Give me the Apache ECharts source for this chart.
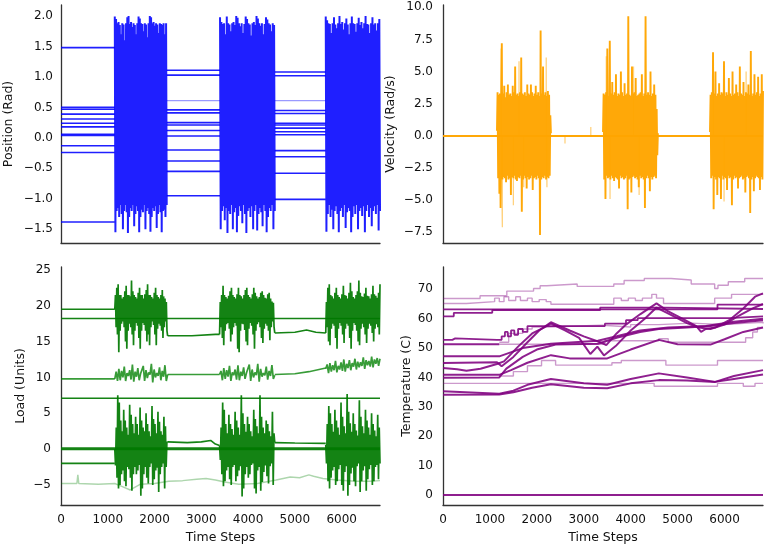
<!DOCTYPE html>
<html><head><meta charset="utf-8">
<script src="https://cdn.jsdelivr.net/npm/echarts@6/dist/echarts.min.js"></script>
<style>html,body{margin:0;padding:0;background:#fff}#c{width:765px;height:548px}</style>
</head><body><div id="c"></div>
<script>
// ---------- shared ----------
const timeMax = 6820;
const timeTicks = [0,1000,2000,3000,4000,5000,6000];
const posTicks = [-1.5,-1,-0.5,0,0.5,1,1.5,2];
const velTicks = [-7.5,-5,-2.5,0,2.5,5,7.5,10];
const loadTicks = [-5,0,5,10,15,20,25];
const tempTicks = [0,10,20,30,40,50,60,70];

// ---------- Position ----------
const posBursts = [[1150,2260],[3400,4570],[5660,6820]];
const posRest1 = [1.48,0.50,0.47,0.39,0.31,0.24,0.18,0.06,0.04,-0.13,-0.24,-1.38];
const posRest2 = [1.11,1.03,0.46,0.41,0.25,0.21,0.12,0.03,-0.20,-0.38,-0.55,-0.95];
const posRest3 = [1.08,1.02,0.45,0.40,0.24,0.21,0.16,0.10,0.05,-0.21,-0.31,-0.58,-1.01];
const posRestLight = [0.61];
const posBurst1 = [1.99,-1.55,1.95,-1.2,1.88,-1.15,1.9,-1.3,1.85,-1.1,1.7,-1.25,1.88,-1.5,1.86,-1.2,1.6,-1.1,1.88,-1.22,1.98,-1.56,2.0,-1.3,1.87,-1.15,1.9,-1.2,1.82,-1.1,1.88,-1.45,1.85,-1.25,1.7,-1.12,1.88,-1.2,1.99,-1.55,1.96,-1.3,1.88,-1.18,1.87,-1.22,1.75,-1.1,1.88,-1.5,1.86,-1.2,1.65,-1.15,1.88,-1.25,2.0,-1.54,1.98,-1.3,1.88,-1.15,1.9,-1.2,1.84,-1.12,1.88,-1.48,1.86,-1.25,1.72,-1.1,1.88,-1.22,1.87,-1.55,1.85,-1.2,1.88,-1.18,1.7,-1.3,1.88,-1.1];
const posBurst2 = [1.98,-1.5,1.9,-1.2,1.87,-1.12,1.88,-1.35,1.7,-1.15,1.99,-1.56,1.88,-1.2,1.86,-1.25,1.75,-1.1,1.88,-1.5,1.9,-1.22,1.85,-1.15,2.0,-1.55,1.97,-1.28,1.88,-1.12,1.83,-1.2,1.88,-1.4,1.72,-1.1,1.87,-1.25,1.99,-1.56,1.95,-1.2,1.88,-1.15,1.86,-1.3,1.68,-1.12,1.88,-1.5,1.9,-1.2,1.85,-1.1,2.0,-1.52,1.96,-1.25,1.88,-1.15,1.84,-1.22,1.88,-1.45,1.7,-1.1,1.87,-1.2,1.98,-1.55,1.94,-1.3,1.88,-1.15,1.86,-1.2,1.75,-1.1,1.88,-1.5,1.85,-1.2];
const posBurst3 = [1.99,-1.54,1.93,-1.25,1.88,-1.1,1.87,-1.3,1.72,-1.18,1.88,-1.5,1.98,-1.2,1.86,-1.12,1.8,-1.25,1.88,-1.55,2.0,-1.2,1.87,-1.15,1.9,-1.3,1.78,-1.1,1.88,-1.48,1.96,-1.22,1.86,-1.15,1.7,-1.2,1.88,-1.55,1.99,-1.3,1.88,-1.12,1.87,-1.25,1.74,-1.1,1.88,-1.5,1.97,-1.2,1.85,-1.15,1.9,-1.28,1.8,-1.12,1.88,-1.55,2.0,-1.2,1.87,-1.1,1.86,-1.3,1.72,-1.15,1.88,-1.45,1.98,-1.2,1.86,-1.12,1.88,-1.25,1.76,-1.1,1.88,-1.52,1.95,-1.2];

// ---------- Velocity ----------
const velBursts = [[1150,2300],[3410,4580],[5690,6820]];
const velBurst1 = [0.4,3.4,-3.3,3.2,-4.5,3.3,-5.6,3.1,7.2,-3.4,3.3,-3.2,3.9,-3.3,3.0,-3.6,3.4,-3.1,4.0,-3.4,3.2,-3.3,3.3,-4.6,3.1,-3.2,3.9,-3.3,3.4,-3.1,5.4,-3.4,3.2,-3.5,3.3,-3.2,3.1,-3.3,3.4,-3.1,6.1,-5.9,3.3,-3.4,3.2,-3.1,3.4,-3.3,3.1,-4.1,4.0,-3.2,3.3,-3.4,3.2,-3.3,4.0,-3.1,3.4,-4.2,3.1,-3.3,3.3,-3.2,3.9,-3.4,3.2,-3.1,3.4,-3.3,3.1,-7.7,8.2,-3.4,3.3,-3.2,5.4,-3.3,3.2,-3.1,3.4,-3.4,3.1,-3.2,3.5,-3.3,3.2,-3.1,1.6,0.2];
const velBurst2 = [0.3,3.3,-3.4,3.2,-4.9,3.4,-3.1,6.8,-3.3,3.1,-3.2,7.4,-3.4,3.3,-3.1,4.2,-3.3,3.2,-3.5,3.4,-3.2,4.8,-3.3,3.1,-3.4,3.3,-4.1,3.2,-3.1,5.0,-3.3,3.4,-3.2,3.1,-3.4,4.1,-3.3,3.2,-3.1,3.3,-5.7,9.3,-3.4,3.2,-3.3,3.1,-4.4,5.4,-3.2,3.3,-3.1,3.4,-3.3,4.5,-3.2,3.1,-3.4,3.2,-4.0,3.3,-3.1,3.4,-3.3,4.8,-3.2,3.1,-3.4,3.3,-5.6,9.3,-3.3,3.2,-3.1,3.4,-3.3,3.2,-4.3,5.0,-3.2,3.1,-3.4,3.3,-3.2,4.0,-3.1,3.2,-3.3,2.1,-1.5,0.2];
const velBurst3 = [0.3,3.2,-3.3,3.4,-3.1,6.5,-5.7,3.3,-3.2,5.0,-3.4,3.1,-4.6,3.3,-3.2,4.1,-3.3,3.2,-4.9,3.4,-3.1,3.3,-3.4,5.8,-3.2,3.1,-3.3,3.4,-4.2,3.2,-3.1,4.5,-3.3,3.3,-3.2,3.1,-5.4,5.0,-3.4,3.2,-3.1,3.3,-3.3,4.0,-3.2,3.4,-4.1,3.1,-3.3,5.4,-3.2,3.3,-3.1,3.2,-3.4,4.2,-3.3,3.1,-4.4,3.4,-3.2,3.3,-3.1,4.0,-3.3,3.2,-6.0,6.6,-3.4,3.1,-3.2,3.3,-4.3,4.8,-3.3,3.2,-3.1,3.4,-3.2,4.6,-3.3,3.1,-4.2,3.3,-3.2,4.8,-3.4,3.5];
const velLightSpikes = [[1240,6.8],[1265,-7.1],[1500,-5.4],[1620,5.8],[1720,-4.0],[2200,6.1],[2215,-4.0],[2600,-0.6],[3150,0.7],[3480,6.2],[3560,-4.9],[4060,5.4],[4180,-4.6],[5760,5.9],[5990,-5.1],[6460,5.0]];

// ---------- Load ----------
const loadBursts = [[1150,2280],[3390,4570],[5660,6820]];
const loadTopRest1 = [[0,19.5],[1150,19.5]];
const loadTopRest2 = [[2280,15.8],[2800,15.8],[3300,16.0],[3390,16.0]];
const loadTopRest3 = [[4570,16.2],[5000,16.3],[5250,16.6],[5450,16.3],[5660,16.2]];
const loadTopBurst1 = [19.5,21.5,17,22.5,16,23,13.5,21.5,16.5,21.5,17.5,21,17.8,21.2,17,22,15,22.8,14,21.5,16.5,21.5,17.5,21.3,17,23.5,16,22,14.5,21.5,16.5,21.2,17.6,21,17.2,21.8,15.5,22.5,14,21.5,16.5,21.5,17.6,21,17.3,21.6,16.5,22.2,15,23,16,21.5,14.5,21.5,17,21.2,17.8,21,17.3,21.8,16,22.5,14.5,21.5,16.8,21.2,17.5,21,17.2,21.5,16.5,22.2,15.5,21.3,17,21,17.8,20.5,16.5,15.8];
const loadTopBurst2 = [16,20.5,17,21.5,15.5,22.8,14.5,21.5,16.5,21.2,17.4,21,17.6,21.4,16.8,22,15,22.5,16,21.5,17,21.2,17.6,21,17.2,21.6,14,22.5,13.5,21.5,16.5,21.3,17.5,21,17.4,21.5,16.6,22.2,15,22.5,14.5,21.5,16.8,21.2,17.6,21,17.2,21.6,16,22.5,14,21.8,16.5,21.3,17.4,21,17.7,21.2,17,21.8,15.5,22,14.8,21.5,16.8,21.1,17.5,21,17.2,21.6,16.5,21.8,15.2,21,17,20.6,17.8,20.4,17,16.2];
const loadTopBurst3 = [16.2,20.5,17,22.5,15,23,14.5,21.5,16.8,21.3,17.5,21,17.2,21.8,15.5,22.5,14,21.5,16.8,21.2,17.6,21,17.2,21.6,16,22.8,14.8,21.5,16.8,21.4,17.5,21,17.2,21.8,15.5,23.2,14,22,16.5,21.2,17.6,21,17.3,21.5,16.5,22,15,23.5,14.5,21.8,16.8,21.3,17.5,21.2,17,21.7,16,22.5,14.8,21.4,16.8,21.3,17.5,21,17.2,21.6,16.2,22.8,15,21.6,16.8,21.4,17.4,21.1,17,21.8,16,23];
const loadConst = [18.2, 7.1];
const loadMidRest1 = [[0,9.8],[1150,9.8]];
const loadMidRest2 = [[2280,10.4],[3390,10.4]];
const loadMidRest3 = [[4570,10.4],[5000,10.5],[5300,10.8],[5660,11.3]];
const loadMidBurst1 = [9.8,10.8,9.5,11.2,9.6,10.9,10,11.5,9.5,10.6,10.2,11,9.7,11.8,9.4,10.8,10.1,11.3,9.6,10.5,10.3,11.6,9.5,11,9.9,10.7,10.4,11.9,9.3,11.1,10,10.6,10.2,11.4,9.6,10.9,10.1,11.7,9.5,10.4];
const loadMidBurst2 = [10.4,10.9,9.6,11.3,9.8,11,10.1,11.6,9.5,10.7,10.3,11.1,9.7,11.7,9.6,10.8,10.2,11.4,9.8,10.6,10.4,11.8,9.5,11.1,10,10.7,10.3,11.9,9.4,11.2,10.1,10.6,10.3,11.5,9.7,10.9,10.2,11.7,9.8,10.3];
const loadMidBurst3 = [11.2,11.8,10.6,12,10.8,11.7,11,12.3,10.7,11.6,11.1,12.1,10.9,12.5,10.8,11.9,11.3,12.4,11,12,11.5,12.6,11.1,12.2,11.4,12.1,11.6,12.8,11.2,12.4,11.7,12.3,11.5,12.9,11.4,12.5,11.9,12.7,11.6,12.6];
const loadZero = [[0,0.05],[6820,0.05]];
const loadLowRest1 = [[0,-2.0],[1150,-2.0]];
const loadLowRest2 = [[2280,1.0],[2700,0.9],[3000,1.0],[3200,1.2],[3300,0.7],[3390,0.5]];
const loadLowRest3 = [[4570,0.9],[5000,0.85],[5660,0.8]];
const loadLowBurst1 = [0,-2.3,3,-4,7.5,-5.5,6.5,-5,4,-3.5,2.5,-3,5.5,-4.5,4,-5.2,3,-2.5,2,-2.8,6.2,-4,4.8,-5.8,3.5,-3.5,2.2,-2.5,4.5,-3.5,3.5,-3,2,-2.2,5.8,-6.5,4,-5.5,3,-3.5,2.5,-2.5,5,-4,3.5,-4.8,2.5,-2.5,1.8,-2,6,-5,4.2,-4.2,3.5,-3,2.2,-2.6,5.2,-6,3.8,-3.5,2.5,-2.5,2,-2,4.5,-5.5,3.2,-2.5,1,0.9];
const loadLowBurst2 = [0.5,-1.5,3,-3.5,6.5,-5.2,5.5,-4.5,3.5,-3,2.2,-2.5,4.8,-4.2,3.5,-5,2.8,-2.5,2,-2.2,5.2,-4.5,4,-3.8,3,-3,2,-2.4,7.5,-6.6,5,-5.5,3.5,-3.5,2.4,-2.5,4.5,-4,3.5,-3.5,2.5,-2.2,1.8,-2,5.5,-5.5,4.2,-6.2,3.2,-3,2.2,-2.5,7.5,-5.8,4.5,-4.6,3,-3.2,2.2,-2.3,4,-3.8,3.5,-4.8,2.5,-2.4,1.8,-2,5.2,-5,2.2,0.9];
const loadLowBurst3 = [0.6,-2,3.5,-4.5,6,-5.5,5,-4,3.5,-3,2.4,-2.5,5.5,-5,4,-4.5,3,-2.8,2,-2.2,6.5,-5,4.5,-5.8,3.2,-3.2,2.2,-2.4,7.7,-6.5,5.2,-5,3.6,-3.4,2.4,-2.6,5,-4.5,3.5,-5.2,2.6,-2.4,1.9,-2,6.8,-6,4.5,-4.5,3.2,-3,2.2,-2.4,5.5,-5.8,4,-4.2,3,-2.8,2,-2.2,5,-5,3.5,-4.5,2.6,-2.5,1.8,-2.2,4.8,-4.2,3,-2];
const loadLight = [[0,-4.8],[340,-4.8],[360,-3.6],[380,-4.8],[800,-4.9],[1150,-4.8],[1300,-5.2],[1480,-5.7],[1700,-4.9],[2000,-4.8],[2300,-4.5],[2600,-4.4],[2900,-4.2],[3100,-4.1],[3300,-4.3],[3500,-4.6],[3800,-4.9],[4200,-4.8],[4600,-4.3],[4900,-3.9],[5100,-4.0],[5300,-3.6],[5400,-3.8],[5600,-4.1],[5900,-4.3],[6300,-4.5],[6600,-4.5],[6820,-4.4]];

// ---------- Temperature ----------
const tempLight1 = [[0,66.9],[790,67.8],[1360,69.4],[1930,70.3],[2070,71.2],[2210,71.8],[2860,71.0],[3640,71.8],[3860,73.0],[4290,73.7],[4860,73.2],[5290,71.8],[5790,70.3],[5860,71.4],[6080,72.6],[6430,73.7],[6820,73.7]];
const tempLight2 = [[0,65.2],[500,65.8],[1100,67],[1200,65.8],[1300,67.5],[1400,66.2],[1550,67.5],[1650,66.2],[1800,67],[1900,65.8],[2050,66.5],[2200,65.8],[2300,64.9],[3640,67],[3800,66.2],[3950,67],[4100,66.2],[4250,67],[4450,68.3],[4550,67],[4700,65.2],[5790,67],[6150,68.3],[6820,68.3]];
const tempLight3 = [[1200,52],[1400,55],[1700,56.5],[1900,57.2],[2200,57.8],[3400,57.2],[4000,58],[4600,58.5],[5300,58],[6000,58.5],[6500,58.8],[6820,58.4]];
const tempLight4 = [[1200,51.3],[3350,51.3],[3450,52.5],[4600,53.2],[4800,52],[6300,52],[6450,53.5],[6600,55.5],[6700,57],[6820,57]];
const tempLight5 = [[1200,40.5],[1500,42],[1800,44],[2100,45.8],[2400,44.2],[3500,44.2],[3600,45],[3800,45.8],[4600,45.8],[4750,44.2],[5750,44.2],[5850,45.8],[6820,45.8]];
const tempLight6 = [[0,38],[4400,38],[4500,37],[5750,37],[5850,38],[6300,38],[6400,37],[6550,37],[6650,38],[6820,38]];
const tempStep1 = [[0,63.2],[5750,63.2],[5850,64.8],[6820,64.8]];
const tempStep2 = [[0,60.8],[230,62],[1050,62.9],[3350,63.8],[4700,63.3],[6820,63.3]];
const tempStep3 = [[0,52.8],[200,53.3],[260,52.8],[1150,52.8],[1250,54],[1320,55.5],[1380,54],[1450,56],[1520,54.5],[1600,56.5],[1700,55.5],[1800,57.5],[3350,57.5],[3450,58.3],[3900,59.5],[4150,60.2],[6000,60.2],[6100,60.8],[6820,60.8]];
const tempFlat51 = [[0,51.3],[1200,51.3]];
const tempRampB = [[0,44.9],[1150,45.2],[1250,43.8],[1500,47],[1800,52],[2050,56],[2300,58.8],[2700,56],[3000,54],[3350,52],[3480,51],[3700,55],[3900,58],[4200,61.5],[4550,65.2],[4800,62.5],[5100,60],[5400,57.5],[5500,55.5],[5600,56.5],[5800,57],[6100,59.5],[6400,63.5],[6650,67.5],[6820,68.6]];
const tempRampC = [[0,43.2],[300,42.8],[500,42.3],[800,43],[1150,44.6],[1300,45.5],[1600,50.5],[1900,55],[2150,57],[2300,58.3],[2600,56],[2900,53.5],[3140,48],[3290,50.5],[3430,47.5],[3700,51],[4000,56],[4300,60],[4550,63.8],[4900,61],[5200,58.5],[5450,57],[5700,56.5],[6000,58],[6300,61],[6600,63.5],[6820,65]];
const tempRampD = [[0,47.2],[1200,47.2],[1700,50],[2300,51.5],[3300,52.5],[3700,54],[4200,56],[4800,57],[5600,57.5],[6200,59],[6820,60]];
const tempRampE = [[0,40.9],[1200,40.9],[1450,42.5],[1800,45],[2300,47.6],[2700,46.5],[3500,46.5],[4000,49.5],[4600,52.8],[5000,51.3],[5700,51.2],[6000,53],[6400,55.5],[6820,57]];
const tempRampE2 = [[0,39.9],[1200,40.0],[1350,43],[1700,47],[2000,49.5],[2400,51.2],[3300,51.5],[3700,53.5],[4200,55.5],[4600,56.5],[5200,57],[5700,57.5],[6200,58.5],[6820,59.5]];
const tempRampF = [[0,35.3],[1200,34.5],[1500,35.5],[1800,37.5],[2300,39.5],[3000,38],[3500,37.5],[4000,39.5],[4600,41.4],[5200,40],[5800,38.5],[6200,40.5],[6820,42.5]];
const tempRampG = [[0,34.1],[1200,34.2],[1500,35],[1900,36.5],[2300,37.7],[3000,36.5],[3500,36.3],[4000,38],[4600,39.1],[5200,39],[5800,38.5],[6200,39.5],[6820,41]];
const tempZero = [[0,0],[6820,0]];

// ---------- build ----------
const FONT = 'DejaVu Sans';
const S = [];
function add(g, data, color, width, extra) {
  S.push(Object.assign({type:'line', xAxisIndex:g, yAxisIndex:g, data:data, showSymbol:false, symbol:'none',
    silent:true, animation:false, lineStyle:{color:color, width:width}, itemStyle:{color:color}}, extra||{}));
}
function spread(arr, span) {
  const n = arr.length;
  return arr.map((v,i) => [span[0] + (span[1]-span[0])*i/(n-1), v]);
}
function flat(level, t0, t1) { return [[t0, level],[t1, level]]; }

// Position
const BLUE = 'rgba(0,0,255,0.88)', BLUE_L = 'rgba(0,0,255,0.4)';
const posRestSpans = [[0,posBursts[0][0]],[posBursts[0][1],posBursts[1][0]],[posBursts[1][1],posBursts[2][0]]];
[posRest1,posRest2,posRest3].forEach((lv,k) => lv.forEach(l => add(0, flat(l, posRestSpans[k][0], posRestSpans[k][1]), BLUE, 1.6)));
[1,2].forEach(k => posRestLight.forEach(l => add(0, flat(l, posRestSpans[k][0], posRestSpans[k][1]), BLUE_L, 1.3)));
[posBurst1,posBurst2,posBurst3].forEach((b,k) => add(0, spread(b, posBursts[k]), BLUE, 2.0));

// Velocity
const ORANGE = 'rgba(255,165,0,0.97)', ORANGE_L = 'rgba(255,165,0,0.5)';
add(1, [[0,0],[timeMax,0]], ORANGE, 2);
const spikeData = [];
velLightSpikes.forEach(p => { spikeData.push([p[0],0],[p[0],p[1]],[p[0],0]); });
add(1, spikeData, ORANGE_L, 1.3);
[velBurst1,velBurst2,velBurst3].forEach((b,k) => add(1, spread(b, velBursts[k]), ORANGE, 1.9));

// Load
const GREEN = 'rgba(0,120,0,0.92)', GREEN_M = 'rgba(0,128,0,0.78)', GREEN_L = 'rgba(0,128,0,0.32)';
add(2, loadLight, GREEN_L, 1.5);
loadConst.forEach(l => add(2, flat(l, 0, timeMax), GREEN, 1.5));
add(2, loadZero, GREEN, 2.8);
[loadTopRest1,loadTopRest2,loadTopRest3,loadLowRest1,loadLowRest2,loadLowRest3].forEach(d => add(2, d, GREEN, 1.6));
[loadMidRest1,loadMidRest2,loadMidRest3].forEach(d => add(2, d, GREEN_M, 1.6));
[loadTopBurst1,loadTopBurst2,loadTopBurst3].forEach((b,k) => add(2, spread(b, loadBursts[k]), GREEN, 1.7));
[loadMidBurst1,loadMidBurst2,loadMidBurst3].forEach((b,k) => add(2, spread(b, loadBursts[k]), GREEN_M, 1.7));
[loadLowBurst1,loadLowBurst2,loadLowBurst3].forEach((b,k) => add(2, spread(b, loadBursts[k]), GREEN, 1.7));

// Temperature
const PURPLE = 'rgba(128,0,128,0.88)', PURPLE_L = 'rgba(128,0,128,0.4)';
[tempLight1,tempLight2,tempLight3,tempLight4,tempLight5,tempLight6].forEach(d => add(3, d, PURPLE_L, 1.4, {step:'end'}));
[tempStep1,tempStep2,tempStep3].forEach(d => add(3, d, PURPLE, 1.8, {step:'end'}));
[tempFlat51,tempRampB,tempRampC,tempRampD,tempRampE,tempRampE2,tempRampF,tempRampG,tempZero].forEach(d => add(3, d, PURPLE, 2.0));

// axes
const fmt1 = v => (v < 0 ? '\u2212' : '') + Math.abs(v).toFixed(1);
const fmt0 = v => (v < 0 ? '\u2212' : '') + Math.abs(v).toFixed(0);
const AX = {show:true, onZero:false, lineStyle:{color:'#333', width:1.3}};
const txt = {fontFamily:FONT, fontSize:12, color:'#111'};
function xAx(g, labels) {
  return {type:'value', gridIndex:g, min:0, max:timeMax, axisLine:AX, axisTick:{show:false}, splitLine:{show:false},
    axisLabel: labels ? Object.assign({show:true, customValues:timeTicks, margin:9, formatter:fmt0}, txt) : {show:false},
    name: labels ? 'Time Steps' : '', nameLocation:'middle', nameGap:26, nameTextStyle:Object.assign({}, txt, {fontSize:12.5})};
}
function yAx(g, min, max, ticks, fmt, name, gap, margin) {
  return {type:'value', gridIndex:g, min:min, max:max, axisLine:AX, axisTick:{show:false}, splitLine:{show:false},
    axisLabel:Object.assign({show:true, customValues:ticks, margin:margin, formatter:fmt, showMinLabel:true, showMaxLabel:true}, txt),
    name:name, nameLocation:'middle', nameGap:gap, nameTextStyle:Object.assign({}, txt, {fontSize:12.5})};
}

const option = {
  animation:false,
  backgroundColor:'#fff',
  grid:[
    {left:61, top:5, width:319, height:238},
    {left:443, top:5, width:320, height:238},
    {left:61, top:267, width:319, height:238},
    {left:443, top:267, width:320, height:238}
  ],
  xAxis:[xAx(0,false), xAx(1,false), xAx(2,true), xAx(3,true)],
  yAxis:[
    yAx(0, -1.725, 2.18, posTicks, fmt1, 'Position (Rad)', 46, 8),
    yAx(1, -8.33, 10.18, velTicks, fmt1, 'Velocity (Rad/s)', 46, 10),
    yAx(2, -7.8, 25.4, loadTicks, fmt0, 'Load (Units)', 34, 10),
    yAx(3, -3.4, 77.6, tempTicks, fmt0, 'Temperature (C)', 30, 10)
  ],
  series:S
};
const chart = echarts.init(document.getElementById('c'), null, {renderer:'canvas'});
chart.setOption(option);
</script></body></html>
